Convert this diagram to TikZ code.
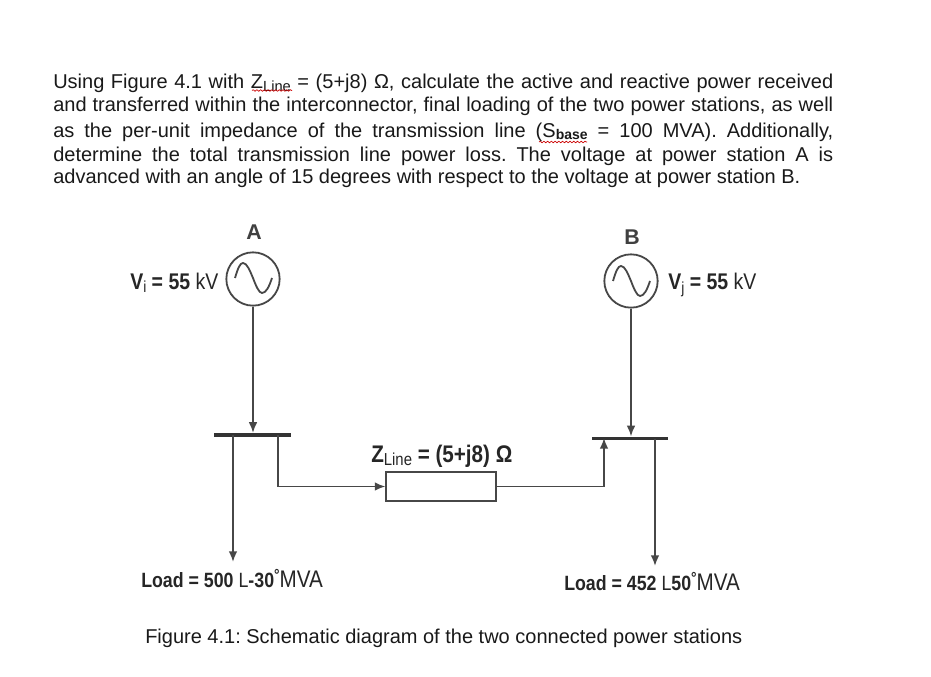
\documentclass[tikz,border=0pt]{standalone}
\usepackage{fontspec}
\setmainfont{Liberation Sans}
\usetikzlibrary{arrows.meta,decorations.pathmorphing}
\newcommand{\narrowtxt}[1]{\scalebox{0.86}[1]{#1}}
\tikzset{
  para/.style={anchor=base west,inner sep=0pt,font=\frenchspacing\fontsize{15pt}{17pt}\selectfont,text=black!90},
  lbl/.style={anchor=base west,inner sep=0pt,font=\fontsize{17pt}{18pt}\selectfont,text=black!85},
  wire/.style={draw=black!72,line width=1.35pt},
  arrowwire/.style={wire,-{Latex[length=8pt,width=6.5pt]}},
  gen/.style={circle,draw=black!72,line width=1.35pt,minimum size=40pt,inner sep=0pt},
  busbar/.style={rectangle,fill=black!80,inner sep=0pt,minimum width=57.5pt,minimum height=2.8pt},
  imped/.style={rectangle,draw=black!72,line width=1.35pt,minimum width=82pt,minimum height=21.5pt,inner sep=0pt},
  squig/.style={draw=red!80!black,line width=.5pt,decorate,decoration={snake,amplitude=.6pt,segment length=2.8pt}},
  wave/.style={draw=black!72,line width=1.35pt}
}
\begin{document}
\begin{tikzpicture}[x=.75pt,y=-.75pt]
\useasboundingbox[fill=white] (0,0) rectangle (931,677);
% paragraph
\node[para] (l1) at (53,88.5) {\makebox[585pt][s]{Using Figure 4.1 with Z\raisebox{-2.5pt}{\fontsize{11pt}{12pt}\selectfont Line} = (5+j8) Ω, calculate the active and reactive power received}};
\node[para] (l2) at (53,111.5) {\makebox[585pt][s]{and transferred within the interconnector, final loading of the two power stations, as well}};
\node[para] (l3) at (53,137.5) {\makebox[585pt][s]{as the per-unit impedance of the transmission line (S\raisebox{-1.5pt}{\fontsize{10.5pt}{12pt}\selectfont\bfseries base} = 100 MVA). Additionally,}};
\node[para] (l4) at (53,161.5) {\makebox[585pt][s]{determine the total transmission line power loss. The voltage at power station A is}};
\node[para] (l5) at (53,184) {advanced with an angle of 15 degrees with respect to the voltage at power station B.};
\coordinate (sqa) at (252,90.5);\coordinate (sqb) at (292,90.5);
\coordinate (sqc) at (539,142);\coordinate (sqd) at (587,142);
\draw[squig] (sqa) -- (sqb);
\draw[squig] (sqc) -- (sqd);
% generators
\node[gen] (genA) at (253,279) {};
\node[gen] (genB) at (631,281) {};
\draw[wave] (235,278) .. controls (238,268) and (240,263) .. (243,263) .. controls (247,263) and (250,271) .. (253,278) .. controls (256,286) and (259,293) .. (262,293) .. controls (266,293) and (269,287) .. (272,278);
\draw[wave] (613,281) .. controls (616,271) and (618,266) .. (621,266) .. controls (625,266) and (628,274) .. (631,281) .. controls (634,289) and (637,296) .. (640,296) .. controls (644,296) and (647,290) .. (650,281);
\node[anchor=base,inner sep=0pt,font=\bfseries\fontsize{16pt}{18pt}\selectfont,text=black!75] (nA) at (254,240) {A};
\node[anchor=base,inner sep=0pt,font=\bfseries\fontsize{16pt}{18pt}\selectfont,text=black!75] (nB) at (632,244) {B};
% buses
\node[busbar] (busA) at (252.5,435) {};
\node[busbar] (busB) at (630,438.5) {};
% impedance
\node[imped] (zbox) at (441,486.5) {};
% load ends
\coordinate (endA) at (233,562);
\coordinate (endB) at (655,566);
\coordinate (stubA) at (278,435);
\coordinate (stubB) at (604,438);
% connectors
\draw[arrowwire] (genA.south) -- (genA.south |- busA.north);
\draw[arrowwire] (genB.south) -- (genB.south |- busB.north);
\draw[arrowwire] (endA |- busA.center) -- (endA);
\draw[arrowwire] (endB |- busB.center) -- (endB);
\draw[arrowwire] (stubA) |- (zbox.west);
\draw[arrowwire] (zbox.east) -| (stubB);
% labels
\node[lbl] (vi) at (130,289) {\narrowtxt{\textbf{V\raisebox{-2.5pt}{\fontsize{12pt}{12pt}\selectfont\mdseries i} = 55} kV}};
\node[lbl] (vj) at (668,290) {\narrowtxt{\textbf{V\raisebox{-2.5pt}{\fontsize{12pt}{12pt}\selectfont\mdseries j} = 55} kV}};
\node[lbl,font=\fontsize{18pt}{20pt}\selectfont] (zl) at (371,462) {\narrowtxt{\textbf{Z\raisebox{-2.5pt}{\fontsize{13pt}{14pt}\selectfont\mdseries Line} = (5+j8) Ω}}};
\node[lbl,font=\fontsize{15.5pt}{18pt}\selectfont] (la) at (141,587) {\narrowtxt{\textbf{Load = 500} L\textbf{-30\raisebox{5pt}{\fontsize{12pt}{10pt}\selectfont °}}{\fontsize{18pt}{18pt}\selectfont MVA}}};
\node[lbl,font=\fontsize{15.5pt}{18pt}\selectfont] (lb) at (564,590) {\narrowtxt{\textbf{Load = 452} L\textbf{50\raisebox{5pt}{\fontsize{12pt}{10pt}\selectfont °}}{\fontsize{18pt}{18pt}\selectfont MVA}}};
\node[para] (cap) at (145,643) {Figure 4.1: Schematic diagram of the two connected power stations};
\end{tikzpicture}
\end{document}
